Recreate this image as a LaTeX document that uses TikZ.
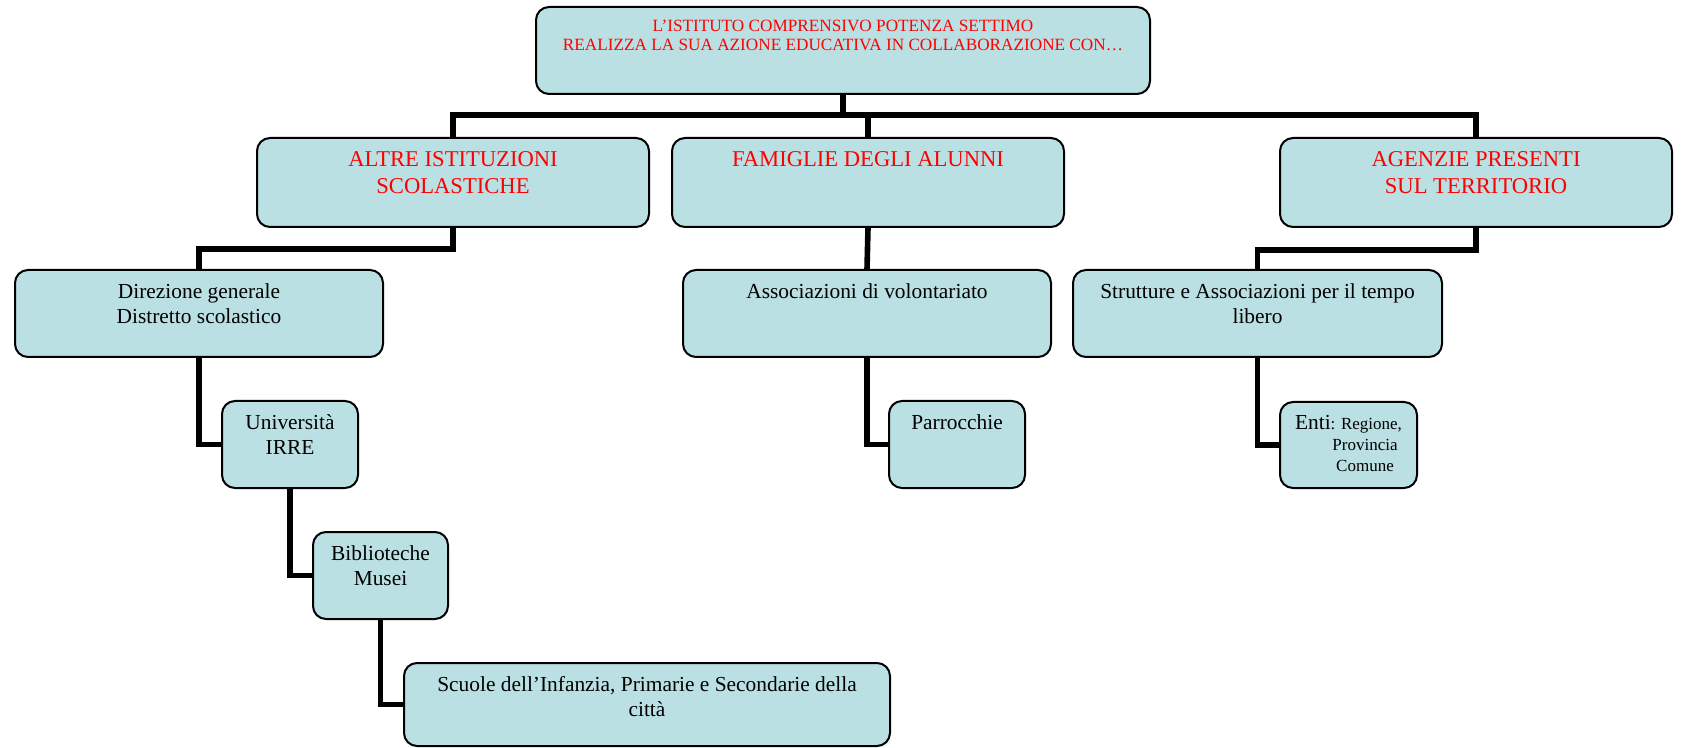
\documentclass[tikz,border=0pt]{standalone}
\usepackage{fontspec}
\setmainfont{Liberation Serif}
\definecolor{boxfill}{RGB}{187,224,227}
\begin{document}
\begin{tikzpicture}[x=0.5pt,y=-0.5pt,
  box/.style={draw=black, line width=1pt, fill=boxfill, rounded corners=6.5pt, inner sep=0pt, anchor=center},
  lbl/.style={inner sep=0pt, anchor=north, align=center},
  f0/.style={font=\fontsize{8.6}{9.75}\selectfont, text=red},
  f1/.style={font=\fontsize{11.3}{13.5}\selectfont, text=red},
  f2/.style={font=\fontsize{10.7}{12.6}\selectfont, text=black},
  conn/.style={line width=2.8pt, line join=miter, line cap=butt}]
\useasboundingbox (0,0) rectangle (1681,748);
\fill[white] (0,0) rectangle (1681,748);

\coordinate (bus) at (843,115);
\node[box, minimum width=307pt, minimum height=43.5pt] (top) at (843,50.5) {};
\node[box, minimum width=196pt, minimum height=44.5pt] (altre) at (453,182.5) {};
\node[box, minimum width=196pt, minimum height=44.5pt] (fam) at (868,182.5) {};
\node[box, minimum width=196pt, minimum height=44.5pt] (agen) at (1476,182.5) {};
\node[box, minimum width=184pt, minimum height=43.5pt] (dir) at (199,313.5) {};
\node[box, minimum width=184pt, minimum height=43.5pt] (assoc) at (867,313.5) {};
\node[box, minimum width=184.5pt, minimum height=43.5pt] (strut) at (1257.5,313.5) {};
\node[box, minimum width=68pt, minimum height=43.5pt] (univ) at (290,444.5) {};
\node[box, minimum width=68pt, minimum height=43.5pt] (parr) at (957,444.5) {};
\node[box, minimum width=68.5pt, minimum height=43pt] (enti) at (1348.5,445) {};
\node[box, minimum width=67.5pt, minimum height=43.5pt] (bib) at (380.5,575.5) {};
\node[box, minimum width=243pt, minimum height=41.5pt] (scuole) at (647,704.5) {};

% texts
\node[lbl, f0] (topt) at ([yshift=-6.7pt]top.north) {L’ISTITUTO COMPRENSIVO POTENZA SETTIMO\\REALIZZA LA SUA AZIONE EDUCATIVA IN COLLABORAZIONE CON…};
\node[lbl, f1] (altret) at ([yshift=-7.2pt]altre.north) {ALTRE ISTITUZIONI\\SCOLASTICHE};
\node[lbl, f1] (famt) at ([yshift=-7.2pt]fam.north) {FAMIGLIE DEGLI ALUNNI};
\node[lbl, f1] (agent) at ([yshift=-7.2pt]agen.north) {AGENZIE PRESENTI\\SUL TERRITORIO};
\node[lbl, f2] (dirt) at ([yshift=-7pt]dir.north) {Direzione generale\\Distretto scolastico};
\node[lbl, f2] (assoct) at ([yshift=-7pt]assoc.north) {Associazioni di volontariato};
\node[lbl, f2] (strutt) at ([yshift=-7pt]strut.north) {Strutture e Associazioni per il tempo\\libero};
\node[lbl, f2] (univt) at ([yshift=-7pt]univ.north) {Università\\IRRE};
\node[lbl, f2] (parrt) at ([yshift=-7pt]parr.north) {Parrocchie};
\node[lbl, f2] (bibt) at ([yshift=-7pt]bib.north) {Biblioteche\\Musei};
\node[lbl, f2] (scuolet) at ([yshift=-7pt]scuole.north) {Scuole dell’Infanzia, Primarie e Secondarie della\\città};
\node[lbl, font=\fontsize{8.5}{10.5}\selectfont] (entit) at ([yshift=-7pt]enti.north) {{\fontsize{10.7}{10.5}\selectfont Enti}: Regione,\\\hspace*{16.5pt}Provincia\\\hspace*{16.5pt}Comune};

% connectors
\draw[conn] (top.south) -- (top.south |- bus);
\draw[conn] (altre.north) -- (altre.north |- bus) -- (agen.north |- bus) -- (agen.north);
\draw[conn] (fam.north) -- (fam.north |- bus);
\draw[conn] (altre.south) -- ++(0,21) -| (dir.north);
\draw[conn] (dir.south) |- (univ.west);
\draw[conn] (univ.south) |- (bib.west);
\draw[conn] (bib.south) |- (scuole.west);
\draw[conn] (fam.south) -- (assoc.north);
\draw[conn] (assoc.south) |- (parr.west);
\draw[conn] (agen.south) -- ++(0,22) -| (strut.north);
\draw[conn] (strut.south) |- (enti.west);
\end{tikzpicture}
\end{document}
